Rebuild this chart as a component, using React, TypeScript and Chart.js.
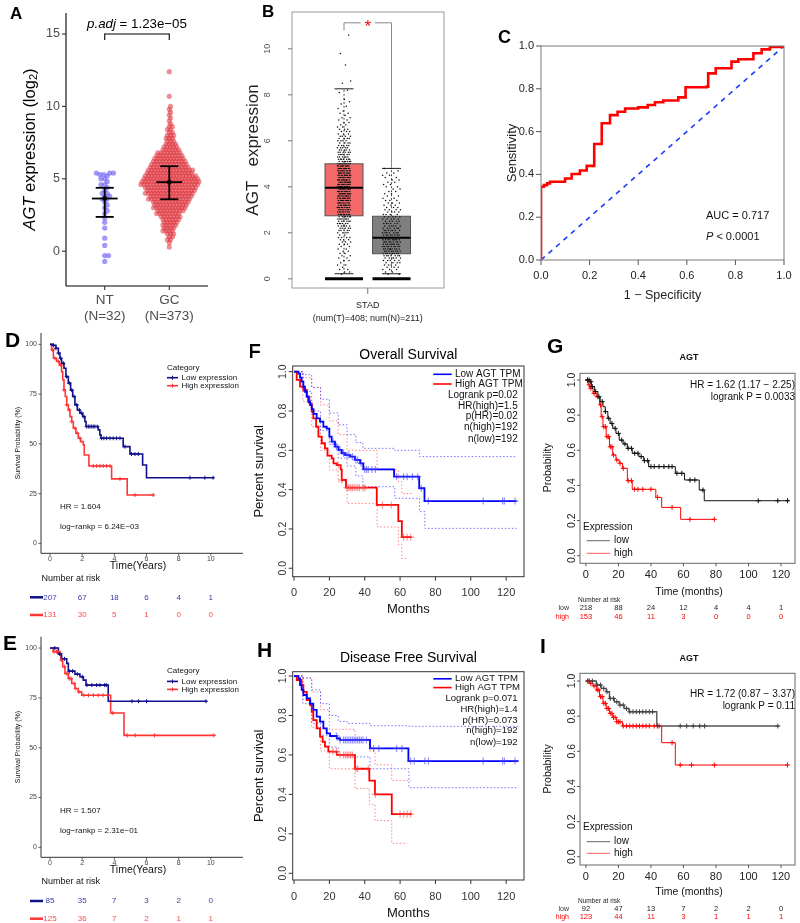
import React, { useEffect, useRef } from 'react';
import { Chart, registerables } from 'chart.js';

Chart.register(...registerables);

const FONT = '"Liberation Sans", Arial, Helvetica, sans-serif';
const ROT = -Math.PI / 2;

/* ================= Panel A : beeswarm ================= */
const aGroups = ['NT', 'GC'];
const aGroupN = ['(N=32)', '(N=373)'];
const aNtValues = [5.4, 5.4, 5.4, 5.3, 5.3, 5.2, 5.0, 5.0, 4.8, 4.6, 4.6, 4.4, 4.2, 4.0, 4.0, 3.8, 3.8, 3.6, 3.6, 3.4, 3.2, 3.0, 2.8, 2.6, 2.3, 2.0, 1.6, 0.9, 0.4, -0.3, -0.3, -0.7];
const aGcBinValues = [12.4, 10.7, 10.0, 9.8, 9.6, 9.4, 9.2, 9.0, 8.8, 8.6, 8.4, 8.2, 8.0, 7.8, 7.6, 7.4, 7.2, 7.0, 6.8, 6.6, 6.4, 6.2, 6.0, 5.8, 5.6, 5.4, 5.2, 5.0, 4.8, 4.6, 4.4, 4.2, 4.0, 3.8, 3.6, 3.4, 3.2, 3.0, 2.8, 2.6, 2.4, 2.2, 2.0, 1.8, 1.6, 1.4, 1.2, 1.0, 0.8, 0.6, 0.3];
const aGcBinCounts = [1, 1, 1, 1, 1, 1, 1, 1, 1, 2, 2, 2, 3, 3,
  3, 4, 5, 6, 8, 9, 10, 11, 12, 13, 15, 15, 17, 18, 19, 19, 17, 16, 16, 14, 14, 12, 11, 11, 9, 8, 7, 6, 5, 5, 4, 4, 3,
  2, 2, 1, 1];
const aMean = [3.64, 4.77];
const aSdLow = [2.37, 3.59];
const aSdHigh = [4.38, 5.87];
const aYTicks = [0, 5, 10, 15];
const aPadj = '1.23e\u221205';

/* ================= Panel B : GEPIA box plot ================= */
const bBinStart = 0.2;
const bBinStep = 0.1;
const bTumorCounts = [1, 2, 2, 1, 2, 1, 2, 2,
  2, 2, 2, 2, 2, 3, 3, 3, 4, 2,
  4, 5, 5, 6, 6, 6, 7, 7, 8, 8,
  8, 9, 9, 9, 10, 10, 10, 11, 10, 11,
  11, 11, 11, 11, 11, 10, 10, 10, 10, 10,
  8, 7, 7, 6, 6, 6, 5, 5, 5, 4,
  4, 4, 4, 3, 3, 3, 2, 2, 2, 2,
  2, 1, 2, 1, 1, 1, 1, 1, 1, 0,
  0, 1, 1];
const bTumorOutliers = [8.5, 8.6, 9.3, 9.8, 10.6];
const bNormalCounts = [2, 2, 3, 3, 4, 4, 5, 6,
  7, 8, 8, 9, 9, 9, 9, 9, 8, 8,
  7, 7, 6, 6, 6, 5, 5, 5, 4, 4,
  4, 3, 3, 3, 3, 2, 2, 2, 2, 2,
  2, 2, 2, 2, 2, 2, 2, 1, 2];
const bBoxQ1 = [2.74, 1.09];
const bBoxMedian = [3.96, 1.78];
const bBoxQ3 = [5.0, 2.72];
const bWhiskerLow = [0.22, 0.22];
const bWhiskerHigh = [8.26, 4.8];
const bBoxColors = ['#F46A6A', '#7F7F7F'];
const bYTicks = [0, 2, 4, 6, 8, 10];

/* ================= Panel C : ROC ================= */
const cFpr = [0, 0, 0.012, 0.025, 0.037, 0.099, 0.126, 0.160, 0.188, 0.219, 0.250, 0.284, 0.315, 0.346, 0.400, 0.439, 0.469, 0.503, 0.565, 0.595, 0.682, 0.688, 0.719, 0.784, 0.812, 0.874, 0.908, 0.942, 1.0];
const cTpr = [0, 0.342, 0.35, 0.358, 0.366, 0.381, 0.402, 0.418, 0.440, 0.542, 0.639, 0.677, 0.693, 0.708, 0.713, 0.724, 0.737, 0.745, 0.760, 0.807, 0.81, 0.872, 0.896, 0.927, 0.938, 0.966, 0.984, 0.995, 1.0];
const cTicks = [0, 0.2, 0.4, 0.6, 0.8, 1.0];

/* ================= Panels D, E : survival (years) ================= */
const survYTicks = [0, 25, 50, 75, 100];
const survXTicks = [0, 2, 4, 6, 8, 10];
const survRiskTimes = [0, 2, 4, 6, 8, 10];
const survLegend = ['Low expression', 'High expression'];

const dLowT = [0, 0.21, 0.37, 0.52, 0.62, 0.72, 0.87, 0.99, 1.14, 1.28, 1.41, 1.55, 1.70, 1.86, 2.03, 2.17, 2.24, 3.0, 3.1, 3.17, 4.55, 4.97, 5.76, 6.0, 10.19];
const dLowS = [100, 99.5, 98, 95.6, 93, 90.5, 88, 83.8, 80.5, 77, 73.8, 69.6, 67, 65.4, 63.7, 61.2, 58.7, 57, 54.5, 52.8, 48.6, 44.9, 39.4, 33, 33];
const dHighT = [0, 0.1, 0.21, 0.41, 0.58, 0.72, 0.79, 0.87, 0.95, 1.04, 1.14, 1.24, 1.35, 1.45, 1.61, 1.76, 1.90, 2.07, 2.13, 2.42, 3.83, 4.80, 6.46];
const dHighS = [100, 97.2, 93, 91.4, 89.7, 86.3, 82.2, 77.1, 73.8, 69.6, 67, 63.7, 61.2, 57.8, 55.3, 52.8, 51.1, 49.5, 44.4, 38.9, 32.4, 24.3, 24.3];
const dLowCens = [0.21, 0.37, 0.52, 0.66, 0.83, 1.04, 1.2, 1.35, 1.49, 1.66, 1.82, 1.97, 2.11, 2.28, 2.38, 2.48, 2.59, 2.69, 2.79, 2.94, 3.21, 3.35, 3.52, 3.73, 3.93, 4.14, 4.35, 4.66, 5.07, 5.28, 5.49, 8.7, 9.63, 10.14];
const dHighCens = [0.17, 0.31, 0.52, 0.66, 0.87, 1.04, 1.2, 1.35, 1.55, 1.7, 1.86, 2.69, 2.9, 3.1, 3.31, 3.52, 3.73, 4.35, 5.28, 6.42];
const dRiskLow = [207, 67, 18, 6, 4, 1];
const dRiskHigh = [131, 30, 5, 1, 0, 0];

const eLowT = [0, 0.52, 0.72, 1.04, 1.14, 1.55, 1.86, 2.07, 2.24, 3.62, 9.73];
const eLowS = [100, 97, 94.6, 92.3, 88.4, 86.9, 85.6, 83.9, 81.4, 73.3, 73.3];
const eHighT = [0, 0.2, 0.62, 0.68, 0.79, 0.93, 1.14, 1.35, 1.55, 1.76, 1.97, 3.77, 4.6, 10.2];
const eHighS = [100, 98.2, 97.3, 94, 90.6, 87.2, 84.7, 82.2, 79.7, 78, 76.3, 67.4, 56.2, 56.2];
const eLowCens = [0.3, 0.6, 0.9, 1.2, 1.4, 1.7, 2.0, 2.3, 2.6, 2.9, 3.1, 3.4, 3.5, 5.1, 5.5, 6.0, 9.7];
const eHighCens = [0.25, 0.4, 0.5, 0.7, 0.9, 1.0, 1.1, 1.2, 1.3, 1.5, 1.6, 1.8, 2.1, 2.4, 2.7, 3.0, 3.3, 3.6, 3.9, 4.8, 5.3, 6.5, 10.2];
const eRiskLow = [85, 35, 7, 3, 2, 0];
const eRiskHigh = [125, 36, 7, 2, 1, 1];

/* ================= Panels F, H : GEPIA survival ================= */
const gepYTicks = [0, 0.2, 0.4, 0.6, 0.8, 1.0];
const gepXTicks = [0, 20, 40, 60, 80, 100, 120];
const gepLegend = ['Low AGT TPM', 'High AGT TPM'];

const fLowT = [0, 2.5, 3.4, 4.3, 5.3, 6.2, 7.2, 8.1, 9.1, 10, 11, 12.8, 14.7, 16.6, 18.5, 20, 21.3, 23.2, 25.1, 27, 28.9, 31.7, 34.5, 37.4, 39.2, 56.6, 70.8, 73.8, 126];
const fLowS = [1, .99, .97, .95, .924, .898, .873, .847, .83, .81, .785, .763, .746, .72, .71, .67, .644, .619, .602, .585, .576, .568, .551, .534, .503, .466, .407, .342, .342];
const fHighT = [0, 1.5, 3.4, 5.3, 7.2, 8.7, 10, 10.9, 12.5, 13.8, 15.7, 17.5, 18.9, 21.3, 22.3, 24.2, 26.4, 27, 29.4, 46.8, 59, 61, 66.6];
const fHighS = [1, .958, .924, .907, .873, .839, .797, .763, .72, .67, .636, .61, .573, .559, .534, .525, .503, .449, .41, .322, .24, .158, .158];
const fLowUpT = [0, 5, 10, 15, 20, 25, 30, 35, 39, 57, 71, 126];
const fLowUpS = [1, .985, .92, .86, .79, .73, .68, .64, .61, .6, .568, .568];
const fLowLoT = [0, 5, 10, 15, 20, 25, 30, 35, 39, 57, 71, 74, 126];
const fLowLoS = [1, .9, .8, .7, .63, .56, .52, .47, .415, .356, .288, .203, .203];
const fHighUpT = [0, 5, 10, 15, 20, 25, 30, 47, 59, 61, 66.6];
const fHighUpS = [1, .97, .92, .83, .75, .68, .6, .5, .44, .38, .38];
const fHighLoT = [0, 5, 10, 15, 20, 25, 30, 47, 59, 61, 64];
const fHighLoS = [1, .85, .72, .6, .5, .44, .33, .21, .12, .05, .05];
const fLowCens = [22, 24, 26, 28, 30, 31, 33, 35, 36, 38, 40, 41, 42, 44, 46, 58, 62, 64, 67, 70, 72, 76, 107, 118, 119, 125];
const fHighCens = [25, 27, 30, 31, 32, 33, 34, 35, 36, 37, 39, 40, 50, 55, 62, 64, 66];
const fStats = ['Logrank p=0.02', 'HR(high)=1.5', 'p(HR)=0.02', 'n(high)=192', 'n(low)=192'];

const hLowT = [0, 2.5, 3.4, 4.3, 5.3, 7.2, 9.1, 10.9, 12.8, 14.7, 16.6, 18.5, 20.4, 24.2, 26, 43, 64.7, 127];
const hLowS = [1, .988, .954, .93, .904, .887, .86, .828, .794, .769, .735, .709, .696, .684, .676, .633, .569, .569];
const hHighT = [0, 1.5, 4.3, 5.3, 7.2, 9.1, 10, 10.9, 12.8, 14.7, 16.2, 17.5, 19.4, 24.2, 34.5, 42.6, 45.8, 55.3, 66.6];
const hHighS = [1, .98, .954, .92, .878, .853, .819, .777, .735, .693, .667, .642, .617, .6, .53, .47, .4, .3, .3];
const hLowUpT = [0, 5, 10, 15, 20, 25, 30, 43, 65, 127];
const hLowUpS = [1, .99, .93, .86, .8, .77, .76, .748, .745, .745];
const hLowLoT = [0, 5, 10, 15, 20, 25, 30, 43, 65, 127];
const hLowLoS = [1, .86, .76, .7, .64, .6, .59, .53, .434, .434];
const hHighUpT = [0, 5, 10, 15, 20, 34.5, 42.6, 45.8, 55.3, 66];
const hHighUpS = [1, .99, .92, .83, .73, .68, .62, .55, .47, .47];
const hHighLoT = [0, 5, 10, 15, 20, 34.5, 42.6, 45.8, 55.3, 64];
const hHighLoS = [1, .88, .74, .62, .53, .43, .35, .267, .152, .152];
const hLowCens = [24, 26, 28, 29, 30, 31, 32, 33, 34, 35, 36, 37, 38, 39, 41, 45, 48, 58, 61, 66, 68, 74, 76, 107, 118, 119, 125];
const hHighCens = [22, 24, 26, 28, 29, 30, 31, 32, 33, 35, 36, 42, 46, 60, 62, 64, 66];
const hStats = ['Logrank p=0.071', 'HR(high)=1.4', 'p(HR)=0.073', 'n(high)=192', 'n(low)=192'];

/* ================= Panels G, I : KM plotter ================= */
const kmpYTicks = [0, 0.2, 0.4, 0.6, 0.8, 1.0];
const kmpXTicks = [0, 20, 40, 60, 80, 100, 120];
const kmpRiskTimes = [0, 20, 40, 60, 80, 100, 120];
const kmpLegend = ['low', 'high'];

const gLowT = [0, 2.4, 3.4, 5.4, 7.4, 8.8, 10.5, 11.9, 13.5, 14.9, 16.5, 18.5, 20.5, 22.9, 25.5, 28.5, 32.6, 35.6, 38.6, 55, 60.7, 69.7, 72.8, 125];
const gLowS = [1, .99, .962, .934, .905, .877, .848, .82, .782, .753, .725, .696, .658, .636, .611, .583, .564, .541, .507, .469, .431, .374, .313, .313];
const gHighT = [0, 1.4, 2.4, 4.4, 6.4, 8.4, 9.4, 10.5, 12.5, 14.5, 16.5, 18.5, 20.5, 22.5, 25.5, 28.5, 43, 46.6, 58.3, 79.2];
const gHighS = [1, .972, .953, .924, .905, .858, .791, .734, .677, .62, .573, .545, .526, .497, .427, .378, .332, .275, .207, .207];
const gLowCens = [1, 2, 3, 4, 6, 8, 10, 12, 14, 16, 18, 20, 22, 24, 26, 28, 30, 32, 34, 36, 38, 40, 42, 45, 48, 51, 53, 56, 59, 64, 67, 72, 106, 118, 124];
const gHighCens = [1, 2, 3, 5, 7, 9, 10, 11, 12, 13, 14, 15, 16, 17, 19, 21, 23, 26, 28, 30, 32, 35, 40, 44, 53, 64, 79];
const gRiskLow = [218, 88, 24, 12, 4, 4, 1];
const gRiskHigh = [153, 46, 11, 3, 0, 0, 0];
const gText = ['HR = 1.62 (1.17 \u2212 2.25)', 'logrank P = 0.0033'];

const iLowT = [0, 6.4, 9.4, 12.5, 14.5, 17.5, 20.5, 23.5, 26.5, 43.6, 119];
const iLowS = [1, .977, .958, .939, .901, .882, .863, .844, .825, .744, .744];
const iHighT = [0, 2.4, 4.4, 6.4, 8.4, 10.5, 12.5, 14.5, 16.5, 18.9, 22.5, 46.6, 55, 124.4];
const iHighS = [1, .987, .972, .949, .911, .873, .844, .816, .793, .768, .744, .649, .522, .522];
const iLowCens = [2, 4, 7, 9, 11, 13, 15, 17, 19, 21, 23, 25, 27, 29, 31, 33, 35, 37, 39, 41, 44, 58, 62, 66, 70, 73, 118];
const iHighCens = [1, 2, 3, 5, 7, 8, 9, 10, 11, 12, 13, 14, 15, 16, 17, 18, 19, 20, 21, 23, 25, 27, 29, 31, 33, 35, 37, 39, 42, 45, 53, 58, 65, 79, 124];
const iRiskLow = [92, 47, 13, 7, 2, 2, 0];
const iRiskHigh = [123, 44, 11, 3, 1, 1, 1];
const iText = ['HR = 1.72 (0.87 \u2212 3.37)', 'logrank P = 0.11'];

/* ================= helpers ================= */
type Box = { left: number; top: number; width: number; height: number };
type Area = { l: number; t: number; r: number; b: number };
type G = { ctx: CanvasRenderingContext2D; X: (v: number) => number; Y: (v: number) => number; a: Area };
type TOpt = { size: number; color?: string; align?: CanvasTextAlign; base?: CanvasTextBaseline; weight?: string; italic?: boolean; rot?: number };

function text(ctx: CanvasRenderingContext2D, s: string, x: number, y: number, o: TOpt) {
  ctx.save();
  ctx.font = `${o.italic ? 'italic ' : ''}${o.weight || 'normal'} ${o.size}px ${FONT}`;
  ctx.fillStyle = o.color || '#000';
  ctx.textAlign = o.align || 'left';
  ctx.textBaseline = o.base || 'middle';
  ctx.translate(x, y);
  if (o.rot) ctx.rotate(o.rot);
  ctx.fillText(s, 0, 0);
  ctx.restore();
}
type Part = { s: string; italic?: boolean; size?: number; dy?: number };
function rich(ctx: CanvasRenderingContext2D, parts: Part[], x: number, y: number, o: TOpt) {
  ctx.save();
  const fontOf = (p: Part) => `${p.italic ? 'italic ' : ''}normal ${p.size || o.size}px ${FONT}`;
  let total = 0;
  const ws = parts.map(p => { ctx.font = fontOf(p); const w = ctx.measureText(p.s).width; total += w; return w; });
  ctx.translate(x, y);
  if (o.rot) ctx.rotate(o.rot);
  let cx = o.align === 'center' ? -total / 2 : o.align === 'right' ? -total : 0;
  ctx.fillStyle = o.color || '#000';
  ctx.textBaseline = o.base || 'middle';
  ctx.textAlign = 'left';
  parts.forEach((p, i) => { ctx.font = fontOf(p); ctx.fillText(p.s, cx, p.dy || 0); cx += ws[i]; });
  ctx.restore();
}
function seg(ctx: CanvasRenderingContext2D, x1: number, y1: number, x2: number, y2: number, color: string, w = 1, dash: number[] = []) {
  ctx.save();
  ctx.strokeStyle = color; ctx.lineWidth = w; ctx.setLineDash(dash);
  ctx.beginPath(); ctx.moveTo(x1, y1); ctx.lineTo(x2, y2); ctx.stroke();
  ctx.restore();
}
function cross(ctx: CanvasRenderingContext2D, x: number, y: number, r: number, color: string, w = 1) {
  seg(ctx, x - r, y, x + r, y, color, w);
  seg(ctx, x, y - r, x, y + r, color, w);
}
function letter(ctx: CanvasRenderingContext2D, s: string, x: number, y: number, size: number) {
  ctx.save();
  ctx.font = `bold ${size}px ${FONT}`;
  ctx.fillStyle = '#000'; ctx.textAlign = 'left'; ctx.textBaseline = 'alphabetic';
  ctx.fillText(s, x, y);
  ctx.restore();
}
function frame(ctx: CanvasRenderingContext2D, a: Area, color: string, w = 1) {
  ctx.save(); ctx.strokeStyle = color; ctx.lineWidth = w;
  ctx.strokeRect(a.l, a.t, a.r - a.l, a.b - a.t); ctx.restore();
}

function stepAt(ts: number[], ss: number[], t: number) {
  let v = ss[0];
  for (let i = 0; i < ts.length; i++) { if (ts[i] <= t) v = ss[i]; else break; }
  return v;
}
function kmLine(ts: number[], ss: number[], color: string, width: number, dash: number[] = []) {
  return { data: ts.map((t, i) => ({ x: t, y: ss[i] })), borderColor: color, borderWidth: width, borderDash: dash, stepped: true, pointRadius: 0, fill: false };
}
function censors(times: number[], ts: number[], ss: number[], color: string, r: number, w: number) {
  return { data: times.map(t => ({ x: t, y: stepAt(ts, ss, t) })), showLine: false, pointStyle: 'cross', pointRadius: r, pointBorderColor: color, pointBorderWidth: w, pointBackgroundColor: color, borderColor: color };
}
function pts(data: { x: number; y: number }[], color: string, r: number) {
  return { data, showLine: false, pointStyle: 'circle', pointRadius: r, pointBackgroundColor: color, pointBorderWidth: 0, borderColor: color };
}
function segDs(x1: number, y1: number, x2: number, y2: number, color: string, w: number, dash: number[] = []) {
  return { data: [{ x: x1, y: y1 }, { x: x2, y: y2 }], borderColor: color, borderWidth: w, borderDash: dash, pointRadius: 0, fill: false };
}
function expandBins(start: number, step: number, counts: number[]) {
  const out: number[] = [];
  counts.forEach((n, i) => { const v = +(start + i * step).toFixed(2); for (let k = 0; k < n; k++) out.push(v); });
  return out;
}
function expandPairs(values: number[], counts: number[]) {
  const out: number[] = [];
  values.forEach((v, i) => { for (let k = 0; k < counts[i]; k++) out.push(v); });
  return out;
}
function swarmOffsets(values: number[], pxPerX: number, pxPerY: number, dist: number) {
  const idx = values.map((_, i) => i).sort((p, q) => values[p] - values[q]);
  const placed: { x: number; y: number }[] = [];
  const off = new Array(values.length).fill(0);
  const d2 = dist * dist;
  for (const i of idx) {
    const y = values[i] * pxPerY;
    const near = placed.filter(p => Math.abs(p.y - y) < dist);
    const cands = [0];
    near.forEach(p => { const dx = Math.sqrt(d2 - (p.y - y) ** 2); cands.push(p.x + dx, p.x - dx); });
    cands.sort((u, v) => Math.abs(u) - Math.abs(v));
    let best = 0;
    for (const c of cands) {
      if (near.every(p => (p.x - c) ** 2 + (p.y - y) ** 2 >= d2 - 1e-6)) { best = c; break; }
    }
    placed.push({ x: best, y });
    off[i] = best / pxPerX;
  }
  return off;
}
function jitter(n: number, half: number) {
  return Array.from({ length: n }, (_, i) => (((i * 0.6180339887 + 0.31) % 1) * 2 - 1) * half);
}

interface PanelDef {
  key: string;
  canvas: Box;
  plot: Area;
  x: [number, number];
  y: [number, number];
  datasets: any[];
  draw: (g: G) => void;
  under?: (g: G) => void;
}

/* ================= Panel A definition ================= */
const A_PLOT: Area = { l: 66, t: 13, r: 208, b: 286 };
const A_X: [number, number] = [0.4, 2.6];
const A_Y: [number, number] = [-2.4, 16.45];
const aPxX = (A_PLOT.r - A_PLOT.l) / (A_X[1] - A_X[0]);
const aPxY = (A_PLOT.b - A_PLOT.t) / (A_Y[1] - A_Y[0]);
const aGcValues = expandPairs(aGcBinValues, aGcBinCounts);
const aNtOff = swarmOffsets(aNtValues, aPxX, aPxY, 3.8);
const aGcOff = swarmOffsets(aGcValues, aPxX, aPxY, 3.15);

const aErrDs: any[] = [];
aMean.forEach((m, i) => {
  const x = i + 1;
  aErrDs.push(segDs(x, aSdLow[i], x, aSdHigh[i], '#000', 1.8));
  aErrDs.push(segDs(x - 0.14, aSdLow[i], x + 0.14, aSdLow[i], '#000', 1.8));
  aErrDs.push(segDs(x - 0.14, aSdHigh[i], x + 0.14, aSdHigh[i], '#000', 1.8));
  aErrDs.push(segDs(x - 0.2, m, x + 0.2, m, '#000', 1.8));
});

const panelA: PanelDef = {
  key: 'A',
  canvas: { left: 0, top: 0, width: 235, height: 330 },
  plot: A_PLOT, x: A_X, y: A_Y,
  datasets: [
    pts(aMean.map((m, i) => ({ x: i + 1, y: m })), '#000', 2.4),
    ...aErrDs,
    pts(aGcValues.map((v, i) => ({ x: 2 + aGcOff[i], y: v })), 'rgba(222,52,62,0.55)', 2.6),
    pts(aNtValues.map((v, i) => ({ x: 1 + aNtOff[i], y: v })), 'rgba(100,85,240,0.6)', 2.6),
  ],
  draw: ({ ctx, X, Y, a }) => {
    seg(ctx, a.l, a.t, a.l, a.b, '#000', 1.1);
    seg(ctx, a.l, a.b, a.r, a.b, '#000', 1.1);
    aYTicks.forEach(v => {
      seg(ctx, a.l - 4, Y(v), a.l, Y(v), '#333', 1.1);
      text(ctx, String(v), a.l - 6, Y(v), { size: 12.5, color: '#4D4D4D', align: 'right' });
    });
    aGroups.forEach((gname, i) => {
      const x = X(i + 1);
      seg(ctx, x, a.b, x, a.b + 4, '#333', 1.1);
      text(ctx, gname, x, 300, { size: 13.5, color: '#4D4D4D', align: 'center' });
      text(ctx, aGroupN[i], x, 316, { size: 13.5, color: '#4D4D4D', align: 'center' });
    });
    rich(ctx, [{ s: 'AGT', italic: true }, { s: ' expression (log' }, { s: '2', size: 11, dy: 4 }, { s: ')' }], 30, (a.t + a.b) / 2, { size: 16.5, color: '#000', align: 'center', rot: ROT });
    const yb = Y(15);
    seg(ctx, X(1), yb, X(2), yb, '#000', 1.1);
    seg(ctx, X(1), yb - 0.5, X(1), yb + 6, '#000', 1.1);
    seg(ctx, X(2), yb - 0.5, X(2), yb + 6, '#000', 1.1);
    rich(ctx, [{ s: 'p.adj', italic: true }, { s: ' = ' + aPadj }], (X(1) + X(2)) / 2, 24.5, { size: 13.3, align: 'center' });
    letter(ctx, 'A', 10, 18.5, 17);
  },
};

/* ================= Panel B definition ================= */
const bTumorValues = expandBins(bBinStart, bBinStep, bTumorCounts).concat(bTumorOutliers);
const bNormalValues = expandBins(bBinStart, bBinStep, bNormalCounts);
const bTumorJit = jitter(bTumorValues.length, 0.14);
const bNormalJit = jitter(bNormalValues.length, 0.19);

const panelB: PanelDef = {
  key: 'B',
  canvas: { left: 235, top: 0, width: 245, height: 330 },
  plot: { l: 292, t: 12, r: 444, b: 288 }, x: [-0.095, 3.105], y: [-0.4, 11.6],
  datasets: [
    pts(bTumorValues.map((v, i) => ({ x: 1 + bTumorJit[i], y: v })), '#111', 0.75),
    pts(bNormalValues.map((v, i) => ({ x: 2 + bNormalJit[i], y: v })), '#111', 0.75),
  ],
  under: ({ ctx, X, Y }) => {
    [0, 1].forEach(i => {
      const x = i + 1, hw = 0.4, cw = 0.2;
      seg(ctx, X(x), Y(bBoxQ3[i]), X(x), Y(bWhiskerHigh[i]), '#222', 0.8, [2, 2]);
      seg(ctx, X(x), Y(bBoxQ1[i]), X(x), Y(bWhiskerLow[i]), '#222', 0.8, [2, 2]);
      seg(ctx, X(x - cw), Y(bWhiskerHigh[i]), X(x + cw), Y(bWhiskerHigh[i]), '#222', 1);
      seg(ctx, X(x - cw), Y(bWhiskerLow[i]), X(x + cw), Y(bWhiskerLow[i]), '#222', 1);
      ctx.save();
      ctx.fillStyle = bBoxColors[i];
      const x0 = X(x - hw), x1 = X(x + hw), y0 = Y(bBoxQ3[i]), y1 = Y(bBoxQ1[i]);
      ctx.fillRect(x0, y0, x1 - x0, y1 - y0);
      ctx.strokeStyle = '#555'; ctx.lineWidth = 1;
      ctx.strokeRect(x0, y0, x1 - x0, y1 - y0);
      ctx.restore();
      seg(ctx, X(x - hw), Y(0), X(x + hw), Y(0), '#000', 3);
    });
  },
  draw: ({ ctx, X, Y, a }) => {
    [0, 1].forEach(i => {
      const x = i + 1, hw = 0.4;
      seg(ctx, X(x - hw), Y(bBoxMedian[i]), X(x + hw), Y(bBoxMedian[i]), '#000', 2);
    });
    frame(ctx, a, '#9A9A9A', 1);
    bYTicks.forEach(v => {
      seg(ctx, a.l - 4, Y(v), a.l, Y(v), '#777', 1);
      text(ctx, String(v), 268, Y(v), { size: 9, color: '#555', align: 'center', rot: ROT });
    });
    text(ctx, 'AGT   expression', 253, (a.t + a.b) / 2, { size: 17, color: '#222', align: 'center', rot: ROT });
    const xm = X(1.5);
    seg(ctx, xm, a.b, xm, a.b + 6, '#777', 1);
    text(ctx, 'STAD', xm, 306, { size: 9, color: '#222', align: 'center' });
    text(ctx, '(num(T)=408; num(N)=211)', xm, 319, { size: 9, color: '#222', align: 'center' });
    const yb = Y(11.13);
    seg(ctx, X(1), yb, xm - 7, yb, '#8A8A8A', 1);
    seg(ctx, xm + 7, yb, X(2), yb, '#8A8A8A', 1);
    seg(ctx, X(1), yb, X(1), Y(10.8), '#8A8A8A', 1);
    seg(ctx, X(2), yb, X(2), Y(4.83), '#8A8A8A', 1);
    text(ctx, '*', xm, yb + 9, { size: 17, color: '#FF0000', align: 'center', base: 'alphabetic' });
    letter(ctx, 'B', 262, 17, 17);
  },
};

/* ================= Panel C definition ================= */
const panelC: PanelDef = {
  key: 'C',
  canvas: { left: 480, top: 0, width: 320, height: 330 },
  plot: { l: 541, t: 46, r: 784, b: 260 }, x: [0, 1], y: [0, 1],
  datasets: [
    kmLine(cFpr, cTpr, '#FF0000', 2.6),
    segDs(0, 0, 1, 1, '#1A3CFF', 1.6, [5, 5]),
  ],
  draw: ({ ctx, X, Y, a }) => {
    frame(ctx, a, '#7A7A7A', 1);
    cTicks.forEach(v => {
      seg(ctx, a.l - 5, Y(v), a.l, Y(v), '#555', 1);
      text(ctx, v.toFixed(1), a.l - 7, Y(v), { size: 11, color: '#222', align: 'right' });
      seg(ctx, X(v), a.b, X(v), a.b + 5, '#555', 1);
      text(ctx, v.toFixed(1), X(v), a.b + 16, { size: 11, color: '#222', align: 'center' });
    });
    text(ctx, 'Sensitivity', 512, (a.t + a.b) / 2, { size: 13, color: '#222', align: 'center', rot: ROT });
    text(ctx, '1 \u2212 Specificity', (a.l + a.r) / 2, 296, { size: 12.5, color: '#222', align: 'center' });
    text(ctx, 'AUC = 0.717', 706, 216, { size: 11, color: '#111' });
    rich(ctx, [{ s: 'P', italic: true }, { s: ' < 0.0001' }], 706, 237, { size: 11, color: '#111', align: 'left' });
    letter(ctx, 'C', 498, 43, 18);
  },
};

/* ================= Panels D, E definitions ================= */
const SURV_BLUE = '#10108C';
const SURV_RED = '#FF3636';
type SurvCfg = { hr: string; p: string; riskLow: number[]; riskHigh: number[]; letter: string; lx: number; ly: number };
function drawSurv(g: G, o: SurvCfg) {
  const { ctx, X, Y, a } = g;
  const t = a.t;
  seg(ctx, a.l, a.t, a.l, a.b, '#333', 1);
  seg(ctx, a.l, a.b, a.r, a.b, '#333', 1);
  survYTicks.forEach(v => {
    seg(ctx, a.l - 2.5, Y(v), a.l, Y(v), '#333', 0.8);
    text(ctx, String(v), a.l - 4, Y(v), { size: 7, color: '#444', align: 'right' });
  });
  survXTicks.forEach(v => {
    seg(ctx, X(v), a.b, X(v), a.b + 2.5, '#333', 0.8);
    text(ctx, String(v), X(v), a.b + 6, { size: 7, color: '#444', align: 'center' });
  });
  text(ctx, 'Survival Probability (%)', 18, (a.t + a.b) / 2, { size: 7, color: '#111', align: 'center', rot: ROT });
  text(ctx, 'Time(Years)', 138, t + 233, { size: 10.5, color: '#111', align: 'center' });
  text(ctx, 'Category', 167, t + 34.3, { size: 8, color: '#111' });
  ([[survLegend[0], SURV_BLUE, 44.7], [survLegend[1], SURV_RED, 52.7]] as [string, string, number][]).forEach(([lab, col, dy]) => {
    seg(ctx, 167, t + dy, 178, t + dy, col, 1.6);
    cross(ctx, 172.5, t + dy, 2, col, 1);
    text(ctx, lab, 181.5, t + dy, { size: 8, color: '#111' });
  });
  text(ctx, o.hr, 60, t + 173.7, { size: 8, color: '#111' });
  text(ctx, o.p, 60, t + 193.7, { size: 8, color: '#111' });
  text(ctx, 'Number at risk', 41.5, t + 245.3, { size: 9, color: '#111' });
  ([[o.riskLow, SURV_BLUE, '#3A3AA8', 264.3], [o.riskHigh, SURV_RED, '#FF4A4A', 282]] as [number[], string, string, number][]).forEach(([vals, col, tcol, dy]) => {
    seg(ctx, 30, t + dy, 43, t + dy, col, 2.5);
    vals.forEach((n, i) => text(ctx, String(n), X(survRiskTimes[i]), t + dy, { size: 8, color: tcol, align: 'center' }));
  });
  letter(ctx, o.letter, o.lx, o.ly, 21);
}
const SURV_X: [number, number] = [-0.56, 12.0];
const SURV_Y: [number, number] = [-5, 105.7];
const panelD: PanelDef = {
  key: 'D',
  canvas: { left: 0, top: 325, width: 250, height: 300 },
  plot: { l: 41, t: 333, r: 243, b: 553.3 }, x: SURV_X, y: SURV_Y,
  datasets: [
    censors(dLowCens, dLowT, dLowS, SURV_BLUE, 2, 1),
    censors(dHighCens, dHighT, dHighS, SURV_RED, 2, 1),
    kmLine(dLowT, dLowS, SURV_BLUE, 1.6),
    kmLine(dHighT, dHighS, SURV_RED, 1.6),
  ],
  draw: g => drawSurv(g, { hr: 'HR = 1.604', p: 'log\u2212rankp = 6.24E\u221203', riskLow: dRiskLow, riskHigh: dRiskHigh, letter: 'D', lx: 5, ly: 347 }),
};
const panelE: PanelDef = {
  key: 'E',
  canvas: { left: 0, top: 625, width: 250, height: 298 },
  plot: { l: 41, t: 636.7, r: 243, b: 857.3 }, x: SURV_X, y: SURV_Y,
  datasets: [
    censors(eLowCens, eLowT, eLowS, SURV_BLUE, 2, 1),
    censors(eHighCens, eHighT, eHighS, SURV_RED, 2, 1),
    kmLine(eLowT, eLowS, SURV_BLUE, 1.6),
    kmLine(eHighT, eHighS, SURV_RED, 1.6),
  ],
  draw: g => drawSurv(g, { hr: 'HR = 1.507', p: 'log\u2212rankp = 2.31e\u221201', riskLow: eRiskLow, riskHigh: eRiskHigh, letter: 'E', lx: 3, ly: 650 }),
};

/* ================= Panels F, H definitions ================= */
const GEP_BLUE = '#0000FF';
const GEP_RED = '#FF0000';
type GepCfg = { title: string; titleY: number; rows: number[]; stats: string[]; monthsY: number; legSize: number; letter: string; lx: number; ly: number };
function drawGepia(g: G, o: GepCfg) {
  const { ctx, X, Y, a } = g;
  frame(ctx, a, '#333', 1);
  gepYTicks.forEach(v => {
    seg(ctx, a.l - 4, Y(v), a.l, Y(v), '#333', 1);
    text(ctx, v.toFixed(1), a.l - 10, Y(v), { size: 10.5, color: '#333', align: 'center', rot: ROT });
  });
  gepXTicks.forEach(v => {
    seg(ctx, X(v), a.b, X(v), a.b + 4, '#333', 1);
    text(ctx, String(v), X(v), a.b + 16.6, { size: 11, color: '#333', align: 'center' });
  });
  text(ctx, o.title, (a.l + a.r) / 2, o.titleY, { size: 14, color: '#000', align: 'center' });
  text(ctx, 'Percent survival', 259, (a.t + a.b) / 2, { size: 13, color: '#111', align: 'center', rot: ROT });
  text(ctx, 'Months', (a.l + a.r) / 2, o.monthsY, { size: 13, color: '#111', align: 'center' });
  [GEP_BLUE, GEP_RED].forEach((col, i) => {
    seg(ctx, 433.3, o.rows[i], 451.7, o.rows[i], col, 1.6);
    text(ctx, gepLegend[i], 455, o.rows[i], { size: o.legSize, color: '#111' });
  });
  o.stats.forEach((s, i) => text(ctx, s, 517.7, o.rows[i + 2], { size: o.legSize, color: '#111', align: 'right' }));
  letter(ctx, o.letter, o.lx, o.ly, 21);
}
const CI_BLUE = 'rgba(70,70,255,0.75)';
const CI_RED = 'rgba(255,80,80,0.7)';
const CENS_BLUE = 'rgba(60,60,255,0.55)';
const CENS_RED = 'rgba(255,60,60,0.55)';
const panelF: PanelDef = {
  key: 'F',
  canvas: { left: 250, top: 330, width: 290, height: 295 },
  plot: { l: 292.7, t: 366, r: 524, b: 576.7 }, x: [-0.75, 130.1], y: [-0.043, 1.029],
  datasets: [
    censors(fLowCens, fLowT, fLowS, CENS_BLUE, 3.5, 1.2),
    censors(fHighCens, fHighT, fHighS, CENS_RED, 3.5, 1.2),
    kmLine(fLowT, fLowS, GEP_BLUE, 1.8),
    kmLine(fHighT, fHighS, GEP_RED, 1.8),
    kmLine(fLowUpT, fLowUpS, CI_BLUE, 1, [1.5, 2]),
    kmLine(fLowLoT, fLowLoS, CI_BLUE, 1, [1.5, 2]),
    kmLine(fHighUpT, fHighUpS, CI_RED, 1, [1.5, 2]),
    kmLine(fHighLoT, fHighLoS, CI_RED, 1, [1.5, 2]),
  ],
  draw: g => drawGepia(g, { title: 'Overall Survival', titleY: 355, rows: [374.3, 384, 395, 406, 416.7, 427.7, 439], stats: fStats, monthsY: 609, legSize: 10, letter: 'F', lx: 248, ly: 358 }),
};
const panelH: PanelDef = {
  key: 'H',
  canvas: { left: 250, top: 625, width: 290, height: 298 },
  plot: { l: 292.7, t: 671.7, r: 524, b: 880 }, x: [-0.75, 130.1], y: [-0.034, 1.022],
  datasets: [
    censors(hLowCens, hLowT, hLowS, CENS_BLUE, 3.5, 1.2),
    censors(hHighCens, hHighT, hHighS, CENS_RED, 3.5, 1.2),
    kmLine(hLowT, hLowS, GEP_BLUE, 1.8),
    kmLine(hHighT, hHighS, GEP_RED, 1.8),
    kmLine(hLowUpT, hLowUpS, CI_BLUE, 1, [1.5, 2]),
    kmLine(hLowLoT, hLowLoS, CI_BLUE, 1, [1.5, 2]),
    kmLine(hHighUpT, hHighUpS, CI_RED, 1, [1.5, 2]),
    kmLine(hHighLoT, hHighLoS, CI_RED, 1, [1.5, 2]),
  ],
  draw: g => drawGepia(g, { title: 'Disease Free Survival', titleY: 658.3, rows: [678.8, 687.6, 698.3, 709, 720, 730.7, 742.3], stats: hStats, monthsY: 913.3, legSize: 9.6, letter: 'H', lx: 257, ly: 657 }),
};

/* ================= Panels G, I definitions ================= */
const KMP_RED = '#FF0000';
const KMP_RED_LEG = '#FF6060';
type KmpCfg = { txt: string[]; titleY: number; hrY: number; legY: number[]; timeY: number; narY: number; rowY: number[]; riskLow: number[]; riskHigh: number[]; letter: string; lx: number; ly: number };
function drawKmp(g: G, o: KmpCfg) {
  const { ctx, X, Y, a } = g;
  frame(ctx, a, '#666', 1);
  kmpYTicks.forEach(v => {
    seg(ctx, a.l - 3, Y(v), a.l, Y(v), '#555', 1);
    text(ctx, v.toFixed(1), a.l - 8, Y(v), { size: 10.5, color: '#222', align: 'center', rot: ROT });
  });
  kmpXTicks.forEach(v => {
    seg(ctx, X(v), a.b, X(v), a.b + 3, '#555', 1);
    text(ctx, String(v), X(v), a.b + 12, { size: 11, color: '#222', align: 'center' });
  });
  text(ctx, 'AGT', 689, o.titleY, { size: 9, weight: 'bold', color: '#111', align: 'center' });
  text(ctx, o.txt[0], 795, o.hrY, { size: 10, color: '#111', align: 'right' });
  text(ctx, o.txt[1], 795, o.hrY + 12.4, { size: 10, color: '#111', align: 'right' });
  text(ctx, 'Expression', 583, o.legY[0], { size: 10, color: '#111' });
  seg(ctx, 586.7, o.legY[1], 610, o.legY[1], '#666', 1);
  text(ctx, kmpLegend[0], 614, o.legY[1], { size: 10, color: '#111' });
  seg(ctx, 586.7, o.legY[2], 610, o.legY[2], KMP_RED_LEG, 1);
  text(ctx, kmpLegend[1], 614, o.legY[2], { size: 10, color: '#111' });
  text(ctx, 'Time (months)', 689, o.timeY, { size: 10.5, color: '#111', align: 'center' });
  text(ctx, 'Probability', 548.3, (Y(0) + Y(1)) / 2, { size: 10.5, color: '#111', align: 'center', rot: ROT });
  text(ctx, 'Number at risk', 578, o.narY, { size: 6.5, color: '#222' });
  text(ctx, kmpLegend[0], 569, o.rowY[0], { size: 7, color: '#333', align: 'right' });
  text(ctx, kmpLegend[1], 569, o.rowY[1], { size: 7, color: KMP_RED, align: 'right' });
  o.riskLow.forEach((n, i) => text(ctx, String(n), X(kmpRiskTimes[i]), o.rowY[0], { size: 7.5, color: '#222', align: 'center' }));
  o.riskHigh.forEach((n, i) => text(ctx, String(n), X(kmpRiskTimes[i]), o.rowY[1], { size: 7.5, color: KMP_RED, align: 'center' }));
  letter(ctx, o.letter, o.lx, o.ly, 21);
}
const KMP_X: [number, number] = [-3.62, 128.6];
const panelG: PanelDef = {
  key: 'G',
  canvas: { left: 540, top: 330, width: 260, height: 295 },
  plot: { l: 580, t: 373.3, r: 799.3, b: 563.3 }, x: KMP_X, y: [-0.043, 1.038],
  datasets: [
    censors(gLowCens, gLowT, gLowS, '#111', 2.5, 1),
    censors(gHighCens, gHighT, gHighS, KMP_RED, 2.5, 1),
    kmLine(gLowT, gLowS, '#111', 1),
    kmLine(gHighT, gHighS, KMP_RED, 1),
  ],
  draw: g => drawKmp(g, { txt: gText, titleY: 358, hrY: 385, legY: [527.7, 540.7, 553.3], timeY: 591.7, narY: 600, rowY: [608.3, 616.7], riskLow: gRiskLow, riskHigh: gRiskHigh, letter: 'G', lx: 547, ly: 353 }),
};
const panelI: PanelDef = {
  key: 'I',
  canvas: { left: 540, top: 625, width: 260, height: 298 },
  plot: { l: 580, t: 673.3, r: 799.3, b: 865 }, x: KMP_X, y: [-0.047, 1.044],
  datasets: [
    censors(iLowCens, iLowT, iLowS, '#444', 2.5, 1),
    censors(iHighCens, iHighT, iHighS, KMP_RED, 2.5, 1),
    kmLine(iLowT, iLowS, '#555', 1.4),
    kmLine(iHighT, iHighS, KMP_RED, 1),
  ],
  draw: g => drawKmp(g, { txt: iText, titleY: 658.3, hrY: 694.3, legY: [827.7, 841.7, 853.3], timeY: 891.7, narY: 901, rowY: [909, 916.7], riskLow: iRiskLow, riskHigh: iRiskHigh, letter: 'I', lx: 540, ly: 653 }),
};

const PANELS: PanelDef[] = [panelA, panelB, panelC, panelD, panelE, panelF, panelH, panelG, panelI];

/* ================= React ================= */
function Panel({ def }: { def: PanelDef }) {
  const ref = useRef<HTMLCanvasElement>(null);
  useEffect(() => {
    const cv = def.canvas, p = def.plot;
    const run = (chart: any, fn?: (g: G) => void) => {
      if (!fn) return;
      const ctx: CanvasRenderingContext2D = chart.ctx;
      const xs = chart.scales.x, ys = chart.scales.y;
      const ca = chart.chartArea;
      const g: G = {
        ctx,
        X: (v: number) => xs.getPixelForValue(v) + cv.left,
        Y: (v: number) => ys.getPixelForValue(v) + cv.top,
        a: { l: ca.left + cv.left, t: ca.top + cv.top, r: ca.right + cv.left, b: ca.bottom + cv.top },
      };
      ctx.save();
      ctx.translate(-cv.left, -cv.top);
      fn(g);
      ctx.restore();
    };
    const chart = new Chart(ref.current as HTMLCanvasElement, {
      type: 'line',
      data: { datasets: def.datasets },
      options: {
        animation: false,
        responsive: false,
        maintainAspectRatio: false,
        devicePixelRatio: 1,
        events: [],
        layout: { padding: { left: p.l - cv.left, top: p.t - cv.top, right: cv.left + cv.width - p.r, bottom: cv.top + cv.height - p.b } },
        scales: {
          x: { type: 'linear', min: def.x[0], max: def.x[1], display: false },
          y: { type: 'linear', min: def.y[0], max: def.y[1], display: false },
        },
        plugins: { legend: { display: false }, tooltip: { enabled: false }, title: { display: false } },
        elements: { line: { tension: 0 } },
      } as any,
      plugins: [{
        id: 'decor' + def.key,
        beforeDatasetsDraw: (c: any) => run(c, def.under),
        afterDatasetsDraw: (c: any) => run(c, def.draw),
      }],
    });
    return () => chart.destroy();
  }, []);
  return (
    <canvas
      ref={ref}
      width={def.canvas.width}
      height={def.canvas.height}
      style={{ position: 'absolute', left: def.canvas.left, top: def.canvas.top, width: def.canvas.width, height: def.canvas.height }}
    />
  );
}

export default function App() {
  return (
    <div style={{ position: 'absolute', left: 0, top: 0, width: 800, height: 923, background: '#fff', overflow: 'hidden' }}>
      {PANELS.map(d => <Panel key={d.key} def={d} />)}
    </div>
  );
}
